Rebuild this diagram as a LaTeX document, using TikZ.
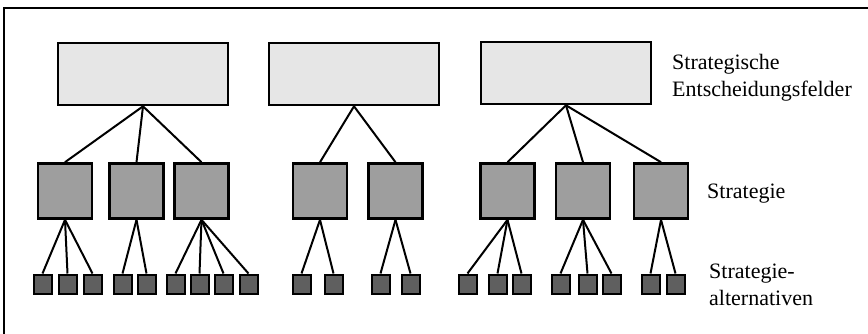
\documentclass[tikz,border=0pt]{standalone}
\usepackage{fontspec}
\setmainfont{Liberation Serif}
\usepackage{tikz}
\usetikzlibrary{positioning}

\definecolor{fieldgray}{RGB}{230,230,230}
\definecolor{stratgray}{RGB}{158,158,158}
\definecolor{altgray}{RGB}{95,95,95}

\begin{document}
\begin{tikzpicture}[x=1pt,y=1pt,yscale=-1,xscale=1,
    field/.style={draw,line width=2.6pt,fill=fieldgray,minimum width=170pt,minimum height=62pt,inner sep=0pt},
    strat/.style={draw,line width=2.6pt,fill=stratgray,minimum width=54pt,minimum height=55pt,inner sep=0pt},
    alt/.style={draw,line width=2pt,fill=altgray,minimum width=18pt,minimum height=19pt,inner sep=0pt},
    link/.style={line width=2pt},
    label/.style={inner sep=0pt,align=left,font=\fontsize{22}{27}\selectfont}]
        \useasboundingbox (0,0) rectangle (868,334);

        %Straight Lines: frame
        \draw [line width=2pt] (4,334) -- (4,8) -- (868,8) ;

        %Shape: Rectangle (fields)
        \node [field] (field1) at (143,74) {};
        \node [field] (field2) at (354,74) {};
        \node [field] (field3) at (566,73) {};

        %Shape: Rectangle (strategies)
        \node [strat] (strat1) at (65,191) {};
        \node [strat] (strat2) at (136.5,191) {};
        \node [strat] (strat3) at (201.5,191) {};
        \node [strat] (strat4) at (320,191) {};
        \node [strat] (strat5) at (395.5,191) {};
        \node [strat] (strat6) at (507.5,191) {};
        \node [strat] (strat7) at (583,191) {};
        \node [strat] (strat8) at (661,191) {};

        %Shape: Rectangle (alternatives)
        \node [alt] (alt1) at (42.5,284) {};
        \node [alt] (alt2) at (67.5,284) {};
        \node [alt] (alt3) at (92.5,284) {};
        \node [alt] (alt4) at (122.5,284) {};
        \node [alt] (alt5) at (146.5,284) {};
        \node [alt] (alt6) at (175.5,284) {};
        \node [alt] (alt7) at (199.5,284) {};
        \node [alt] (alt8) at (223.5,284) {};
        \node [alt] (alt9) at (248.5,284) {};
        \node [alt] (alt10) at (301.5,284) {};
        \node [alt] (alt11) at (333.5,284) {};
        \node [alt] (alt12) at (380.5,284) {};
        \node [alt] (alt13) at (410.5,284) {};
        \node [alt] (alt14) at (467.5,284) {};
        \node [alt] (alt15) at (497.5,284) {};
        \node [alt] (alt16) at (521.5,284) {};
        \node [alt] (alt17) at (560.5,284) {};
        \node [alt] (alt18) at (587.5,284) {};
        \node [alt] (alt19) at (611.5,284) {};
        \node [alt] (alt20) at (650.5,284) {};
        \node [alt] (alt21) at (675.5,284) {};

        %Straight Lines: fields to strategies
        \draw [link] (field1.south) -- (strat1.north) ;
        \draw [link] (field1.south) -- (strat2.north) ;
        \draw [link] (field1.south) -- (strat3.north) ;
        \draw [link] (field2.south) -- (strat4.north) ;
        \draw [link] (field2.south) -- (strat5.north) ;
        \draw [link] (field3.south) -- (strat6.north) ;
        \draw [link] (field3.south) -- (strat7.north) ;
        \draw [link] (field3.south) -- (strat8.north) ;

        %Straight Lines: strategies to alternatives
        \draw [link] (strat1.south) -- (alt1.north) ;
        \draw [link] (strat1.south) -- (alt2.north) ;
        \draw [link] (strat1.south) -- (alt3.north) ;
        \draw [link] (strat2.south) -- (alt4.north) ;
        \draw [link] (strat2.south) -- (alt5.north) ;
        \draw [link] (strat3.south) -- (alt6.north) ;
        \draw [link] (strat3.south) -- (alt7.north) ;
        \draw [link] (strat3.south) -- (alt8.north) ;
        \draw [link] (strat3.south) -- (alt9.north) ;
        \draw [link] (strat4.south) -- (alt10.north) ;
        \draw [link] (strat4.south) -- (alt11.north) ;
        \draw [link] (strat5.south) -- (alt12.north) ;
        \draw [link] (strat5.south) -- (alt13.north) ;
        \draw [link] (strat6.south) -- (alt14.north) ;
        \draw [link] (strat6.south) -- (alt15.north) ;
        \draw [link] (strat6.south) -- (alt16.north) ;
        \draw [link] (strat7.south) -- (alt17.north) ;
        \draw [link] (strat7.south) -- (alt18.north) ;
        \draw [link] (strat7.south) -- (alt19.north) ;
        \draw [link] (strat8.south) -- (alt20.north) ;
        \draw [link] (strat8.south) -- (alt21.north) ;

        % Text Node
        \node [label,anchor=north west] (fieldtext) at (672,54) {Strategische\\Entscheidungsfelder};
        % Text Node
        \node [label,anchor=base west] (strattext) at (707,198) {Strategie};
        % Text Node
        \node [label,anchor=north west] (alttext) at (709,264) {Strategie-\\alternativen};
\end{tikzpicture}
\end{document}
